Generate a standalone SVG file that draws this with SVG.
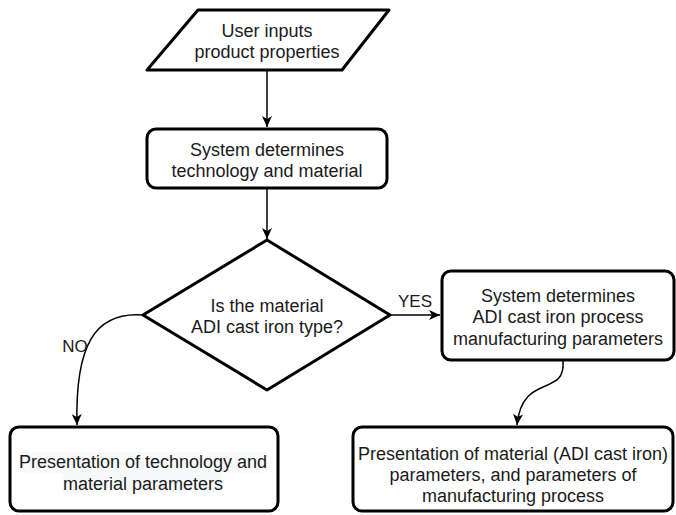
<svg xmlns="http://www.w3.org/2000/svg" width="676" height="515" viewBox="0 0 676 515">
<style>
.n{fill:#fff;stroke:#000;stroke-width:3;stroke-linejoin:round}
.t{font-family:"Liberation Sans",Arial,sans-serif;font-size:18px;fill:#1a1a1a;text-anchor:middle}
.c{fill:none;stroke:#000;stroke-width:1.5}
.hl{fill:#f7f9fb}
</style>
<defs>
<marker id="ah" markerWidth="12" markerHeight="12" viewBox="0 0 12 12" refX="11" refY="6" orient="auto" markerUnits="userSpaceOnUse">
<path d="M0,1 L11,6 L0,11 L3,6 Z" fill="#000"/>
</marker>
</defs>
<rect width="676" height="515" fill="#fff"/>
<g id="connectors">
<path class="c" d="M267,71 L267,127" marker-end="url(#ah)"/>
<path class="c" d="M267,189 L267,239" marker-end="url(#ah)"/>
<path class="c" d="M391,315 L440,315" marker-end="url(#ah)"/>
<path class="c" d="M142,315 C95,312 75,345 77,425" marker-end="url(#ah)"/>
<path class="c" d="M563,361 C566,398 522,372 517,425" marker-end="url(#ah)"/>
<text class="t" x="415" y="307" style="font-size:17px">YES</text>
<text class="t" x="75" y="352" style="font-size:17px">NO</text>
</g>
<g id="n1">
<path class="n" d="M198,10 L389,10 L342,70 L147,70 Z"/>
<text class="t" x="267" y="37">User inputs</text>
<text class="t" x="267" y="58">product properties</text>
</g>
<g id="n2">
<rect class="n" x="147" y="129" width="240" height="59" rx="9"/>
<text class="t" x="267" y="156">System determines</text>
<text class="t" x="267" y="177">technology and material</text>
</g>
<g id="n3">
<path class="n" d="M267,240 L390,315 L267,390 L143,315 Z"/>
<text class="t" x="267" y="312">Is the material</text>
<text class="t" x="267" y="333">ADI cast iron type?</text>
</g>
<g id="n4">
<rect class="n" x="442" y="271" width="232" height="89" rx="9"/>
<text class="t" x="558" y="302">System determines</text>
<text class="t" x="558" y="323">ADI cast iron process</text>
<text class="t" x="558" y="345">manufacturing parameters</text>
</g>
<g id="n5">
<rect class="n" x="10" y="427" width="268" height="84" rx="9"/>
<rect class="hl" x="20" y="452" width="247" height="21"/>
<rect class="hl" x="63" y="473" width="159" height="20"/>
<text class="t" x="143" y="468">Presentation of technology and</text>
<text class="t" x="143" y="490">material parameters</text>
</g>
<g id="n6">
<rect class="n" x="353" y="427" width="320" height="84" rx="9"/>
<text class="t" x="513" y="460">Presentation of material (ADI cast iron)</text>
<text class="t" x="513" y="481">parameters, and parameters of</text>
<text class="t" x="513" y="502">manufacturing process</text>
</g>
</svg>
